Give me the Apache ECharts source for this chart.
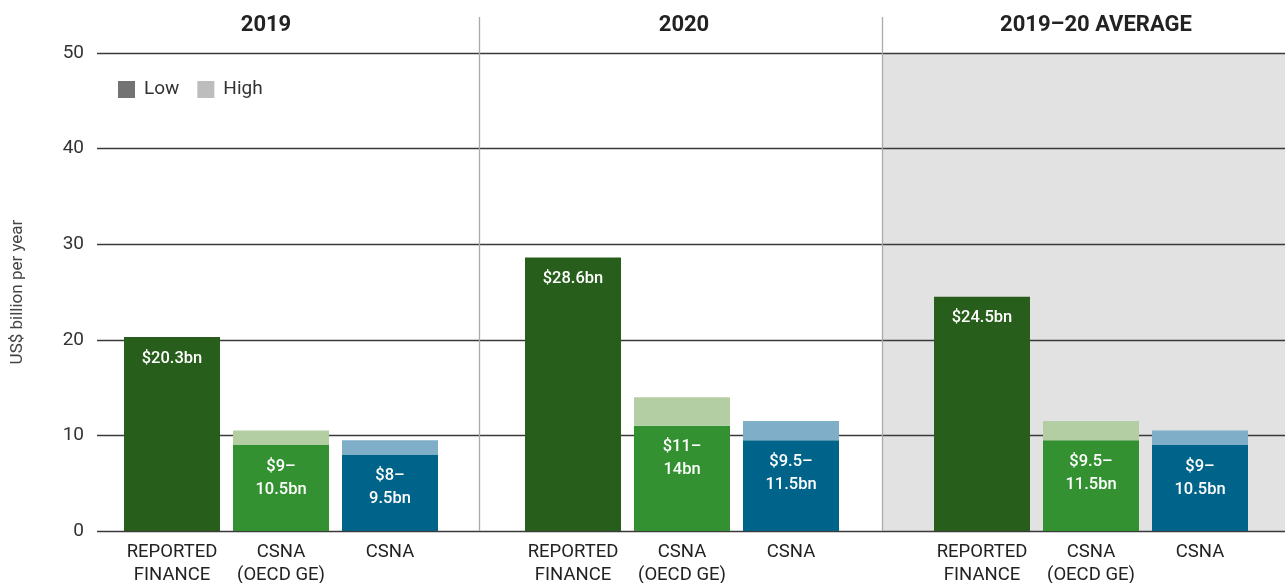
<!DOCTYPE html>
<html>
<head>
<meta charset="utf-8">
<script src="https://cdn.jsdelivr.net/npm/echarts@6/dist/echarts.min.js"></script>
<style>
  html, body { margin: 0; padding: 0; background: #fff; }
  #chart { width: 1285px; height: 583px; }
</style>
</head>
<body>
<div id="chart"></div>
<script>
// 数据
const panels = ['2019', '2020', '2019–20 AVERAGE'];
const categories = ['REPORTED\nFINANCE', 'CSNA\n(OECD GE)', 'CSNA'];
const yTicks = [0, 10, 20, 30, 40, 50];
// low / high per panel: [reported, csna oecd, csna]
const low2019 = [20.3, 9, 8];
const high2019 = [20.3, 10.5, 9.5];
const low2020 = [28.6, 11, 9.5];
const high2020 = [28.6, 14, 11.5];
const lowAvg = [24.5, 9.5, 9];
const highAvg = [24.5, 11.5, 10.5];
const labels2019 = ['$20.3bn', '$9–\n10.5bn', '$8–\n9.5bn'];
const labels2020 = ['$28.6bn', '$11–\n14bn', '$9.5–\n11.5bn'];
const labelsAvg = ['$24.5bn', '$9.5–\n11.5bn', '$9–\n10.5bn'];

const lowColors = ['#285e1b', '#339132', '#00638a'];
const highColors = ['#285e1b', '#b3cea2', '#7faec8'];
const FONT = 'Roboto';

const lows = [low2019, low2020, lowAvg];
const highs = [high2019, high2020, highAvg];
const labs = [labels2019, labels2020, labelsAvg];
const barLefts = [117.5, 518.5, 927.5];

let grids = [{left: 97, right: 0, top: 53, bottom: 52, outerBoundsMode: 'none', containLabel: false}];
let xAxes = [{gridIndex: 0, type: 'category', data: [], show: false}];
let yAxes = [{
  gridIndex: 0, type: 'value', min: yTicks[0], max: yTicks[yTicks.length - 1], interval: 10,
  name: 'US$ billion per year', nameLocation: 'middle', nameGap: 71, nameRotate: 90,
  nameTextStyle: {fontFamily: FONT, fontSize: 17, color: '#444'},
  axisLine: {show: false}, axisTick: {show: false},
  axisLabel: {fontFamily: FONT, fontSize: 19, color: '#333', margin: 13},
  splitLine: {show: true, lineStyle: {color: '#3a3a3a', width: 1.3}}
}];
let series = [];

for (let p = 0; p < 3; p++) {
  grids.push({left: barLefts[p], width: 327, top: 53, bottom: 52, outerBoundsMode: 'none', containLabel: false});
  xAxes.push({
    gridIndex: p + 1, type: 'category', data: categories,
    axisLine: {show: false}, axisTick: {show: false},
    axisLabel: {fontFamily: FONT, fontSize: 18.5, color: '#222', lineHeight: 23, margin: 10, interval: 0}
  });
  yAxes.push({gridIndex: p + 1, type: 'value', min: 0, max: 50, interval: 10, show: false, splitLine: {show: false}});
  const low = lows[p], high = highs[p], lab = labs[p];
  series.push({
    name: 'Low', type: 'bar', stack: 's' + p, xAxisIndex: p + 1, yAxisIndex: p + 1,
    barWidth: 96, itemStyle: {color: '#737373'},
    data: low.map((v, i) => ({value: v, itemStyle: {color: lowColors[i]}})),
    label: {
      show: true, position: 'insideTop', distance: 10,
      fontFamily: FONT, fontSize: 16.5, fontWeight: 500, color: '#fff', lineHeight: 23,
      formatter: (d) => lab[d.dataIndex]
    }
  });
  series.push({
    name: 'High', type: 'bar', stack: 's' + p, xAxisIndex: p + 1, yAxisIndex: p + 1,
    barWidth: 96, itemStyle: {color: '#bdbdbd'},
    data: high.map((v, i) => ({value: +(v - low[i]).toFixed(2), itemStyle: {color: highColors[i]}}))
  });
}

const chart = echarts.init(document.getElementById('chart'));
chart.setOption({
  animation: false,
  grid: grids,
  xAxis: xAxes,
  yAxis: yAxes,
  legend: {
    left: 113, top: 75, icon: 'rect', itemWidth: 17, itemHeight: 17, itemGap: 18,
    data: ['Low', 'High'],
    textStyle: {fontFamily: FONT, fontSize: 19, color: '#333', padding: [0, 0, 0, 4]}
  },
  graphic: [
    {type: 'rect', z: -10, shape: {x: 882, y: 53, width: 403, height: 478}, style: {fill: '#e2e2e2'}},
    {type: 'line', z: 10, shape: {x1: 479.5, y1: 17, x2: 479.5, y2: 531}, style: {stroke: '#aaa', lineWidth: 1.3}},
    {type: 'line', z: 10, shape: {x1: 882.5, y1: 17, x2: 882.5, y2: 531}, style: {stroke: '#aaa', lineWidth: 1.3}},
    {type: 'text', x: 266, y: 25, style: {text: panels[0], fontFamily: FONT, fontSize: 22, fontWeight: 'bold', fill: '#222', textAlign: 'center', textVerticalAlign: 'middle'}},
    {type: 'text', x: 684, y: 25, style: {text: panels[1], fontFamily: FONT, fontSize: 22, fontWeight: 'bold', fill: '#222', textAlign: 'center', textVerticalAlign: 'middle'}},
    {type: 'text', x: 1096, y: 25, style: {text: panels[2], fontFamily: FONT, fontSize: 22, fontWeight: 'bold', fill: '#222', textAlign: 'center', textVerticalAlign: 'middle'}}
  ],
  series: series
});
</script>
</body>
</html>
